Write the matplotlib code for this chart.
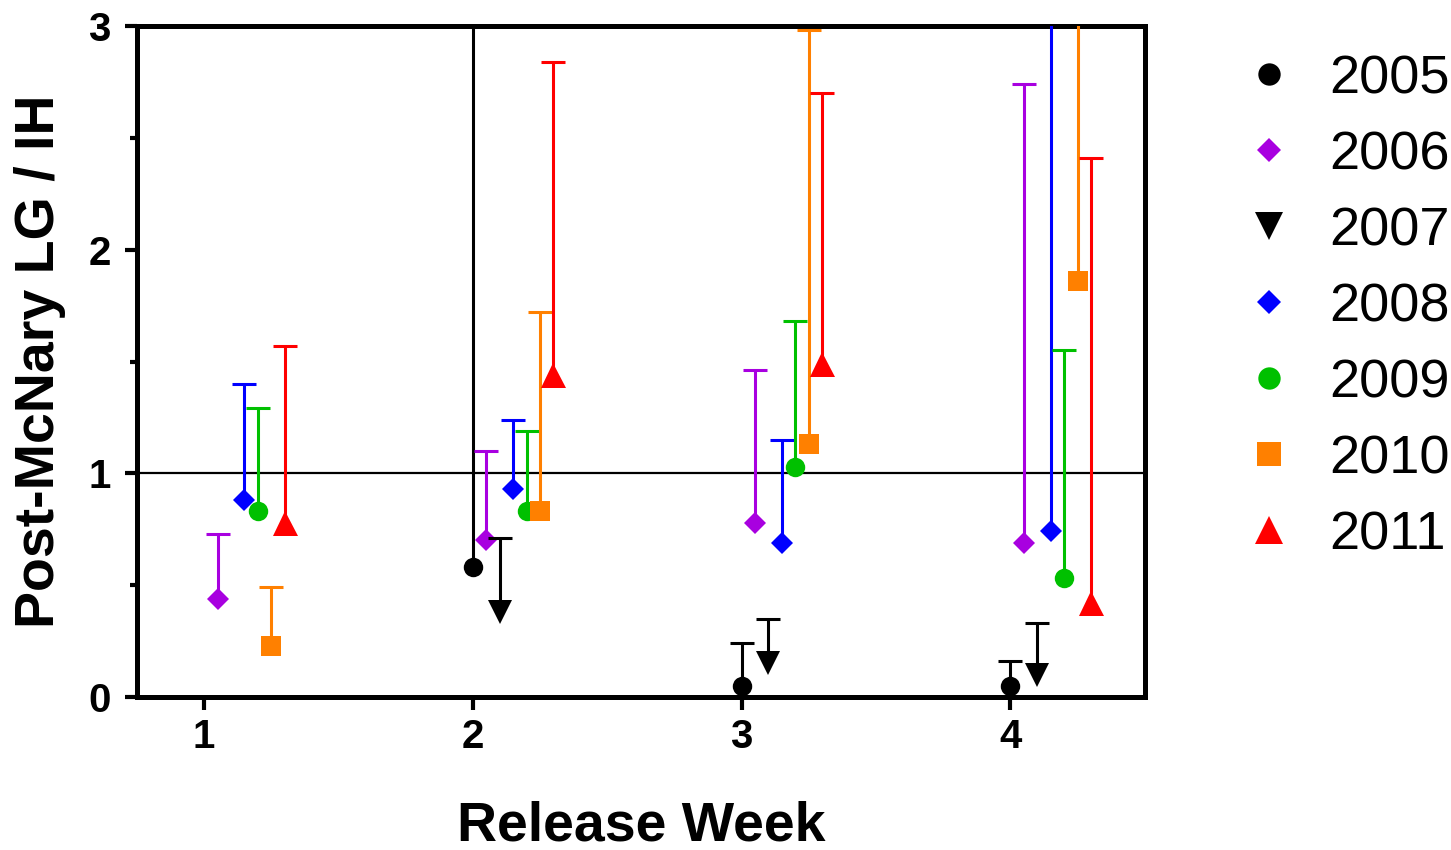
import numpy as np
import matplotlib
matplotlib.use("Agg")
import matplotlib.pyplot as plt
from matplotlib.lines import Line2D

plt.rcParams['font.family'] = ['Liberation Sans', 'DejaVu Sans']

# ---- data ----
weeks = np.array([1, 2, 3, 4])
years = ['2005', '2006', '2007', '2008', '2009', '2010', '2011']
offsets = [0.0, 0.05, 0.10, 0.15, 0.20, 0.25, 0.30]

# point estimates per week (nan = no value); upper limit of each error bar
y2005 = [np.nan, 0.58, 0.05, 0.05]
u2005 = [np.nan, 3.5, 0.24, 0.16]
y2006 = [0.44, 0.70, 0.78, 0.69]
u2006 = [0.73, 1.10, 1.46, 2.74]
y2007 = [np.nan, 0.38, 0.15, 0.10]
u2007 = [np.nan, 0.71, 0.35, 0.33]
y2008 = [0.88, 0.93, 0.69, 0.74]
u2008 = [1.40, 1.24, 1.15, 3.5]
y2009 = [0.83, 0.83, 1.03, 0.53]
u2009 = [1.29, 1.19, 1.68, 1.55]
y2010 = [0.23, 0.83, 1.13, 1.86]
u2010 = [0.49, 1.72, 2.98, 3.5]
y2011 = [0.78, 1.44, 1.49, 0.42]
u2011 = [1.57, 2.84, 2.70, 2.41]

values = [y2005, y2006, y2007, y2008, y2009, y2010, y2011]
uppers = [u2005, u2006, u2007, u2008, u2009, u2010, u2011]
colors = ['black', '#A800E0', 'black', '#0000FF', '#00C000', '#FF8000', '#FF0000']
markers = ['o', 'D', 'v', 'D', 'o', 's', '^']
msizes = [14, 11, 17, 11, 14, 15, 18]

fig = plt.figure(figsize=(14.51, 8.5), dpi=100)
ax = fig.add_axes([0.0944, 0.18, 0.6945, 0.7894])

ax.axhline(1, color='black', lw=1.6, zorder=1)

handles = []
for i, yr in enumerate(years):
    x = weeks + offsets[i]
    v = np.array(values[i])
    up = np.array(uppers[i]) - v
    err = np.vstack([np.zeros_like(up), up])
    eb = ax.errorbar(x, v, yerr=err, fmt='none', ecolor=colors[i], elinewidth=2.2,
                     capsize=8.5, capthick=2.2, zorder=2 + i)
    # keep only the upper caps
    for cap in eb[1]:
        yd = np.asarray(cap.get_ydata(), dtype=float)
        ok = ~np.isnan(v)
        if np.allclose(yd[~np.isnan(yd)], v[ok]):
            cap.set_visible(False)
    ax.plot(x, v, linestyle='none', marker=markers[i], color=colors[i],
            markersize=msizes[i], markeredgewidth=0, zorder=2 + i)
    handles.append(Line2D([], [], linestyle='none', marker=markers[i], color=colors[i],
                          markersize=msizes[i] * 1.15, markeredgewidth=0, label=yr))

ax.set_xlim(0.75, 4.5)
ax.set_ylim(0, 3)
ax.set_xticks(weeks)
ax.set_yticks([0, 1, 2, 3])
ax.set_yticks([0.5, 1.5, 2.5], minor=True)

for side in ['left', 'bottom', 'top', 'right']:
    ax.spines[side].set_linewidth(3.6)

ax.tick_params(axis='both', which='major', direction='out', length=9, width=3,
               labelsize=29)
ax.tick_params(axis='y', which='major', pad=10)
ax.tick_params(axis='x', which='major', pad=6)
ax.tick_params(axis='y', which='minor', direction='out', length=5, width=3)
for lab in ax.get_xticklabels() + ax.get_yticklabels():
    lab.set_fontweight('bold')

ax.set_xlabel('Release Week', fontsize=40, fontweight='bold', labelpad=32)
ax.set_ylabel('Post-McNary LG / IH', fontsize=40, fontweight='bold', labelpad=16)

fig.legend(handles=handles, loc='upper left', bbox_to_anchor=(0.841, 0.968),
           frameon=False, fontsize=39, handlelength=0.8, handletextpad=0.72,
           labelspacing=0.48, borderpad=0)

fig.savefig('out.png', dpi=100)
